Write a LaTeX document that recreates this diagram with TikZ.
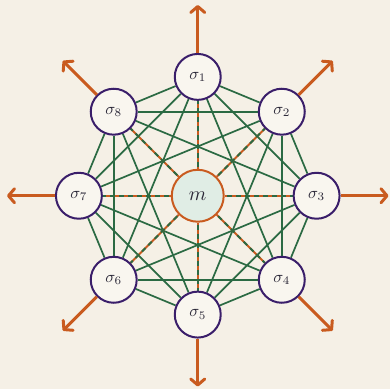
\documentclass[tikz,border=0pt]{standalone}
\usepackage{graphicx}
\usetikzlibrary{arrows.meta}
\definecolor{bg}{HTML}{F5F0E6}
\definecolor{edgegreen}{HTML}{2B6A43}
\definecolor{spokeor}{HTML}{C95B1F}
\definecolor{ringpur}{HTML}{3A1E6A}
\definecolor{nodefill}{HTML}{F9F6EF}
\definecolor{mfill}{HTML}{E0EDE5}
\definecolor{txt}{HTML}{2B2838}
\pgfdeclarelayer{back}
\pgfdeclarelayer{edges}
\pgfsetlayers{back,edges,main}
\begin{document}
\begin{tikzpicture}[x=1pt,y=1pt,
  signode/.style={circle,draw=ringpur,line width=2pt,fill=nodefill,minimum size=46pt,inner sep=0pt,text=txt},
  mnode/.style={circle,draw=spokeor,line width=2pt,fill=mfill,minimum size=52pt,inner sep=0pt,text=txt},
  greenedge/.style={draw=edgegreen,line width=1.7pt},
  diamedge/.style={draw=edgegreen,line width=1.8pt,dash pattern=on 5pt off 4pt,dash phase=2pt},
  spoke/.style={draw=spokeor,line width=1.8pt},
  outarrow/.style={draw=spokeor,line width=3pt,-{Straight Barb[length=6pt,width=14pt,round]}}]
\begin{pgfonlayer}{back}
\fill[bg] (0,0) rectangle (390,389);
\end{pgfonlayer}
\begin{scope}[shift={(198,193)}]
\node[mnode] (m) at (0,0) {\scalebox{2}{$m$}};
\foreach \i in {1,...,8} {
  \pgfmathsetmacro\ang{90-45*(\i-1)}
  \node[signode] (s\i) at (\ang:119) {\scalebox{1.65}{$\sigma_{\i}$}};
  \coordinate (t\i) at (\ang:191);
  \draw[outarrow] (s\i) -- (t\i);
}
\begin{pgfonlayer}{edges}
\foreach \i [evaluate=\i as \k using int(\i+1)] in {1,...,7} {
  \foreach \j in {\k,...,8} {
    \pgfmathtruncatemacro\d{\j-\i}
    \ifnum\d=4\relax
    \else
      \draw[greenedge] (s\i) -- (s\j);
    \fi
  }
}
\foreach \i in {1,...,8} {
  \draw[spoke] (m) -- (s\i);
}
\foreach \i in {1,...,4} {
  \pgfmathtruncatemacro\j{\i+4}
  \draw[diamedge] (s\i) -- (s\j);
}
\end{pgfonlayer}
\end{scope}
\end{tikzpicture}
\end{document}
